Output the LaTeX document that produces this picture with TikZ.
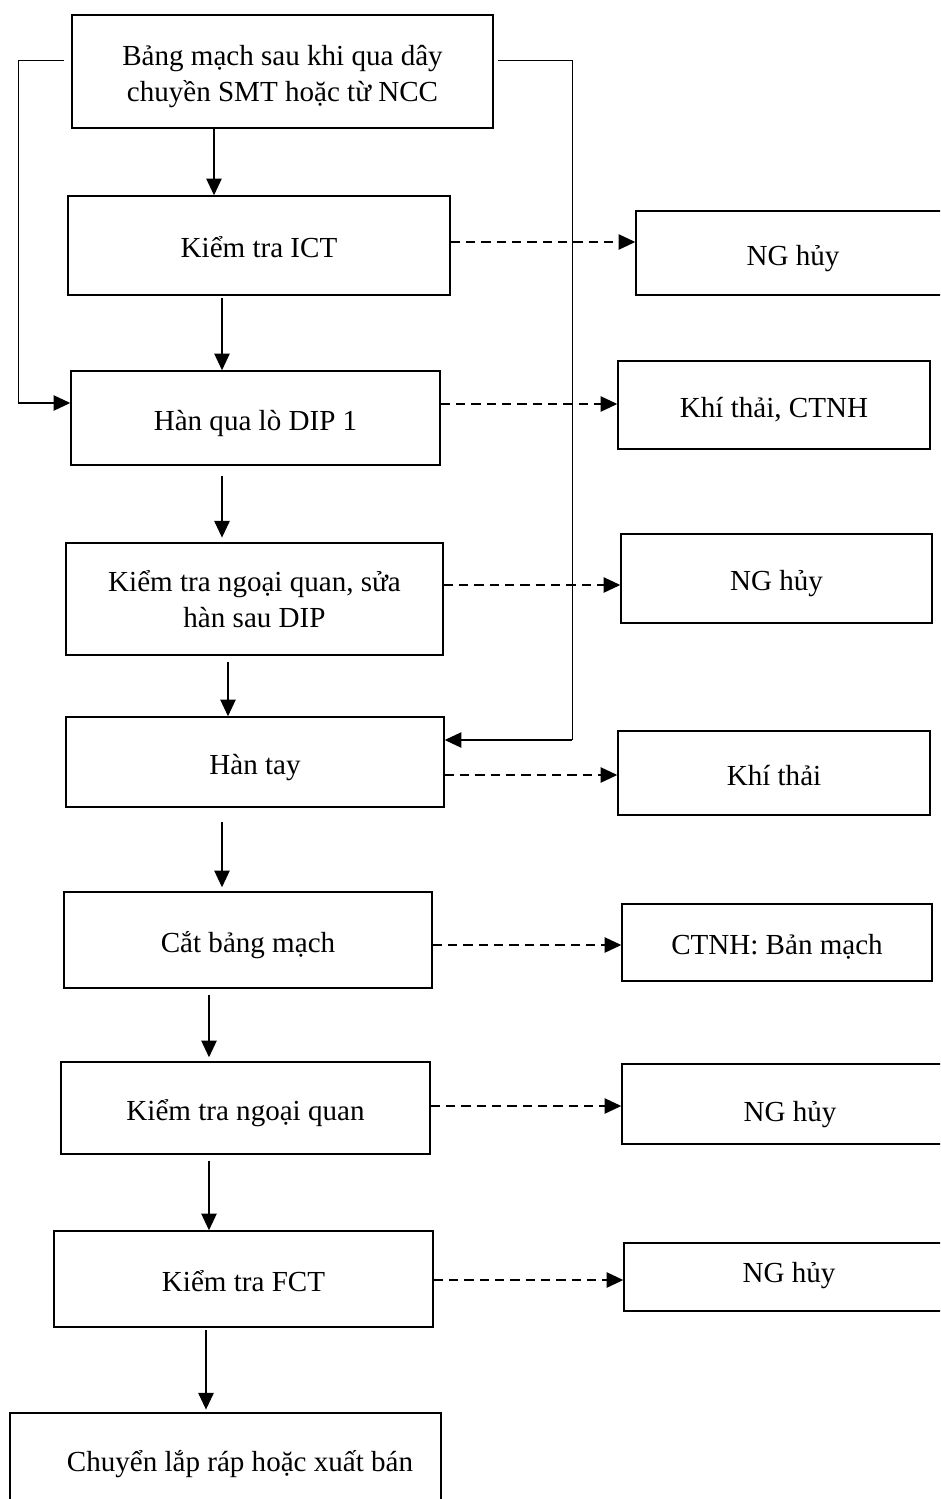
\documentclass[tikz,border=0pt]{standalone}
\usepackage{fontspec}
\setmainfont{Liberation Serif}
\usetikzlibrary{arrows.meta}
\begin{document}
\begin{tikzpicture}[x=0.75pt,y=-0.75pt,
  stepbox/.style={draw, line width=1.1pt, inner sep=0pt, align=center,
    font=\fontsize{21.8pt}{27pt}\selectfont},
  oneline/.style={text height=20pt, text depth=2pt},
  caption/.style={inner sep=0pt, align=center, font=\fontsize{21.8pt}{27pt}\selectfont},
  flow/.style={line width=1.1pt, -{Triangle[length=12.5pt,width=11.5pt]}},
  waste/.style={flow, dash pattern=on 7pt off 4.5pt},
  loopline/.style={line width=0.75pt}
]
\useasboundingbox (0,0) rectangle (940,1499);
\begin{scope}
\clip (0,0) rectangle (940,1499);

% main process column
\node[stepbox, minimum width=421*0.75pt, minimum height=113*0.75pt] (A) at (282.5,71.5) {};
\node[caption] (At) at (282.5,76.5) {Bảng mạch sau khi qua dây\\chuyền SMT hoặc từ NCC};
\node[stepbox, oneline, minimum width=382*0.75pt, minimum height=99*0.75pt] (ICT) at (259,245.5) {Kiểm tra ICT};
\node[stepbox, oneline, minimum width=369*0.75pt, minimum height=94*0.75pt] (DIP) at (255.5,418) {Hàn qua lò DIP 1};
\node[stepbox, minimum width=377*0.75pt, minimum height=112*0.75pt] (KTNQ) at (254.5,599)
  {Kiểm tra ngoại quan, sửa\\hàn sau DIP};
\node[stepbox, oneline, minimum width=378*0.75pt, minimum height=90*0.75pt] (HT) at (255,762) {Hàn tay};
\node[stepbox, oneline, minimum width=368*0.75pt, minimum height=96*0.75pt] (CAT) at (248,940) {Cắt bảng mạch};
\node[stepbox, oneline, minimum width=369*0.75pt, minimum height=92*0.75pt] (KTNQB) at (245.5,1108) {Kiểm tra ngoại quan};
\node[stepbox, oneline, minimum width=379*0.75pt, minimum height=96*0.75pt] (FCT) at (243.5,1279) {Kiểm tra FCT};
\node[stepbox, minimum width=431*0.75pt, minimum height=107*0.75pt] (END) at (225.5,1466.5) {};
\node[caption, oneline] (ENDt) at (240,1459.5) {Chuyển lắp ráp hoặc xuất bán};

% waste / reject column
\node[stepbox, oneline, minimum width=314*0.75pt, minimum height=84*0.75pt] (NGa) at (793,253) {NG hủy};
\node[stepbox, oneline, minimum width=312*0.75pt, minimum height=88*0.75pt] (KCT) at (774,405) {Khí thải, CTNH};
\node[stepbox, oneline, minimum width=311*0.75pt, minimum height=89*0.75pt] (NGb) at (776.5,578.5) {NG hủy};
\node[stepbox, oneline, minimum width=312*0.75pt, minimum height=84*0.75pt] (KT) at (774,773) {Khí thải};
\node[stepbox, oneline, minimum width=310*0.75pt, minimum height=77*0.75pt] (CTNH) at (777,942.5) {CTNH: Bản mạch};
\node[stepbox, minimum width=328*0.75pt, minimum height=80*0.75pt] (NGc) at (786,1104) {};
\node[caption, oneline] (NGct) at (790,1109) {NG hủy};
\node[stepbox, minimum width=326*0.75pt, minimum height=68*0.75pt] (NGd) at (787,1277) {};
\node[caption, oneline] (NGdt) at (789,1270.5) {NG hủy};

% x positions of the downward arrows
\coordinate (x1) at (214,0);
\coordinate (x2) at (222,0);
\coordinate (x3) at (228,0);
\coordinate (x4) at (209,0);
\coordinate (x5) at (206,0);

\draw[flow] (A.south -| x1) -- (ICT.north -| x1);
\draw[flow, shorten <=2pt] (ICT.south -| x2) -- (DIP.north -| x2);
\draw[flow, shorten <=7.5pt, shorten >=3.5pt] (DIP.south -| x2) -- (KTNQ.north -| x2);
\draw[flow, shorten <=5pt] (KTNQ.south -| x3) -- (HT.north -| x3);
\draw[flow, shorten <=11pt, shorten >=3pt] (HT.south -| x2) -- (CAT.north -| x2);
\draw[flow, shorten <=5pt, shorten >=3pt] (CAT.south -| x4) -- (KTNQB.north -| x4);
\draw[flow, shorten <=4.5pt] (KTNQB.south -| x4) -- (FCT.north -| x4);
\draw[flow, shorten <=2pt, shorten >=2pt] (FCT.south -| x5) -- (END.north -| x5);

% y positions of the dashed outputs
\coordinate (y1) at (0,242);
\coordinate (y2) at (0,404);
\coordinate (y3) at (0,585);
\coordinate (y4) at (0,775);
\coordinate (y5) at (0,945);
\coordinate (y6) at (0,1106);
\coordinate (y7) at (0,1280);

\draw[waste] (ICT.east |- y1) -- (NGa.west |- y1);
\draw[waste] (DIP.east |- y2) -- (KCT.west |- y2);
\draw[waste] (KTNQ.east |- y3) -- (NGb.west |- y3);
\draw[waste] (HT.east |- y4) -- (KT.west |- y4);
\draw[waste] (CAT.east |- y5) -- (CTNH.west |- y5);
\draw[waste] (KTNQB.east |- y6) -- (NGc.west |- y6);
\draw[waste] (FCT.east |- y7) -- (NGd.west |- y7);

% bypass lines
\coordinate (la) at (18,60);
\coordinate (lb) at (18,403);
\coordinate (ra) at (572,60);
\coordinate (rb) at (572,740);
\draw[loopline] ([xshift=-5.5pt]A.west |- la) -- (la) -- (lb);
\draw[flow] ([xshift=-0.35pt]lb) -- (DIP.west |- lb);
\draw[loopline] ([xshift=3.5pt]A.east |- ra) -- (ra) -- (rb);
\draw[flow] ([xshift=0.35pt]rb) -- (HT.east |- rb);
\end{scope}
\end{tikzpicture}
\end{document}
